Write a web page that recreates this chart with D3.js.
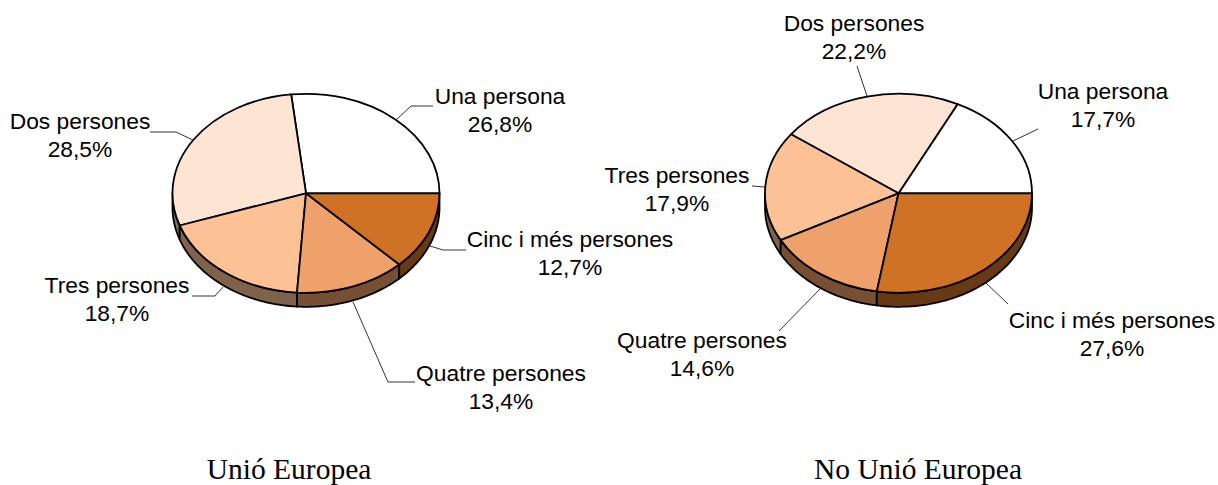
<!DOCTYPE html>
<html><head><meta charset="utf-8"><script src="https://cdnjs.cloudflare.com/ajax/libs/d3/7.8.5/d3.min.js"></script>
<style>html,body{margin:0;padding:0;background:#fff}svg{display:block}</style></head><body>
<svg id="c" width="1218" height="485"></svg>
<script>
const categories=["Una persona","Dos persones","Tres persones","Quatre persones","Cinc i més persones"];
const valuesUE=[26.8,28.5,18.7,13.4,12.7];
const valuesNoUE=[17.7,22.2,17.9,14.6,27.6];
const titles=["Unió Europea","No Unió Europea"];
const topColors=["#ffffff","#fee4d2","#fdc196","#eea16a","#d07225"];
const sideColors=["#7f7f7f","#7f7269","#7f614c","#774f33","#673a13"];
const layouts=[
 {cx:306,cy:193.3,title:[289,479],
  labels:[[500,104],[80,129],[117,293],[501,381],[570,247]],
  leaders:[[[396,120],[411,106],[433,106]],[[193,140],[176,132],[150,132]],[[223,287],[215,296],[192,296]],[[353,302],[388,382],[415,382]],[[430,246],[443,250],[466,250]]]},
 {cx:898.5,cy:193.3,title:[918,479],
  labels:[[1103,99],[854,31],[677,183],[702,348],[1112,328]],
  leaders:[[[1013,141],[1038,129]],[[867,96],[857,66]],[[765,187],[752,186]],[[820,289],[779,331]],[[986,283],[1008,304]]]}
];
const rx=133.5,ry=99.5,depth=14;
const svg=d3.select("#c");
const pie=d3.pie().sort(null).startAngle(Math.PI/2).endAngle(Math.PI/2-2*Math.PI);
const arc=d3.arc().innerRadius(0).outerRadius(rx);
const line=d3.line();
const X=a=>rx*Math.sin(a),Y=a=>-ry*Math.cos(a);
[valuesUE,valuesNoUE].forEach((vals,k)=>{
  const L=layouts[k];
  const g=svg.append("g").attr("transform",`translate(${L.cx},${L.cy})`);
  const arcs=pie(vals);
  arcs.forEach((d,i)=>{
    let a1=Math.min(d.startAngle,d.endAngle),a0=Math.max(d.startAngle,d.endAngle);
    const norm=t=>{while(t<0)t+=2*Math.PI;return t;};
    let lo=norm(a1),hi=lo+(a0-a1);
    const s=Math.max(lo,Math.PI/2),e=Math.min(hi,1.5*Math.PI);
    if(e<=s)return;
    const steps=d3.range(0,61).map(j=>s+(e-s)*j/60);
    const pts=steps.map(a=>[X(a),Y(a)]).concat(steps.slice().reverse().map(a=>[X(a),Y(a)+depth]));
    g.append("path").attr("d",line(pts)+"Z").attr("fill",sideColors[i]).attr("stroke","#000").attr("stroke-width",1.8).attr("stroke-linejoin","round");
  });
  const top=g.append("g").attr("transform",`scale(1,${ry/rx})`);
  top.selectAll("path").data(arcs).join("path")
    .attr("d",d=>arc({startAngle:d.endAngle,endAngle:d.startAngle}))
    .attr("fill",(d,i)=>topColors[i]).attr("stroke","#000").attr("stroke-width",1.8)
    .attr("stroke-linejoin","round").attr("vector-effect","non-scaling-stroke");
  L.leaders.forEach(p=>svg.append("path").attr("d",line(p)).attr("fill","none").attr("stroke","#000").attr("stroke-width",0.8));
  categories.forEach((c,i)=>{
    const t=svg.append("text").attr("font-family","'Liberation Sans',Arial,sans-serif").attr("font-size",22.8).attr("fill","#000").attr("text-anchor","middle");
    t.append("tspan").attr("x",L.labels[i][0]).attr("y",L.labels[i][1]).text(c);
    t.append("tspan").attr("x",L.labels[i][0]).attr("y",L.labels[i][1]+27.5).text(d3.format(".1f")(vals[i]).replace(".",",")+"%");
  });
  svg.append("text").attr("x",L.title[0]).attr("y",L.title[1]).attr("text-anchor","middle")
    .attr("font-family","'Liberation Serif','Times New Roman',serif").attr("font-size",29.5).attr("fill","#000").text(titles[k]);
});
</script></body></html>
